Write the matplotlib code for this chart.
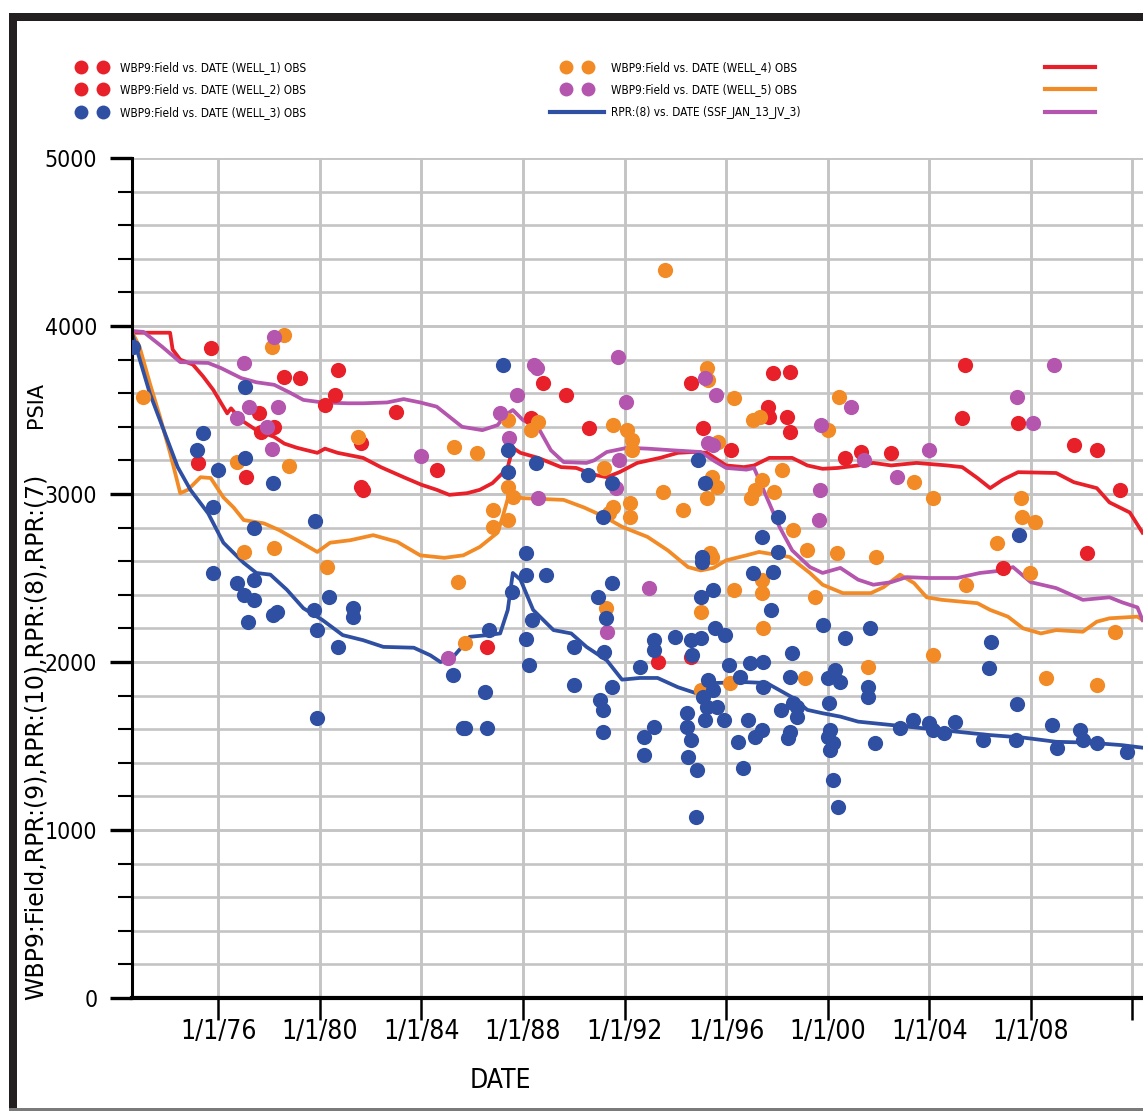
import numpy as np
import matplotlib
matplotlib.use('Agg')
import matplotlib.pyplot as plt
from matplotlib import font_manager as fm
from matplotlib.lines import Line2D
from matplotlib.patches import Rectangle
from matplotlib.legend_handler import HandlerLine2D

W, H = 1143, 1111

# simulated pressure curves, columns: decimal year, psia
rpr9 = np.array([
    [1972.6, 3960], [1974.1, 3960], [1974.2, 3860], [1974.5, 3800], [1975.0, 3770],
    [1975.4, 3700], [1975.8, 3620], [1976.35, 3480], [1976.5, 3510], [1976.9, 3440],
    [1977.5, 3380], [1978.2, 3340], [1978.6, 3300], [1979.1, 3275], [1979.9, 3245],
    [1980.2, 3270], [1980.7, 3245], [1981.7, 3215], [1982.4, 3160], [1983.3, 3100],
    [1984.0, 3055], [1984.6, 3025], [1985.1, 2995], [1985.8, 3005], [1986.3, 3025],
    [1986.8, 3065], [1987.2, 3125], [1987.4, 3160], [1987.6, 3275], [1987.9, 3245],
    [1988.6, 3215], [1989.5, 3160], [1990.1, 3155], [1990.8, 3115], [1991.3, 3100],
    [1991.8, 3130], [1992.5, 3185], [1993.4, 3215], [1994.1, 3245], [1994.7, 3250],
    [1995.25, 3245], [1996.0, 3170], [1996.7, 3160], [1997.1, 3170], [1997.7, 3215],
    [1998.6, 3215], [1999.2, 3170], [1999.8, 3150], [2000.4, 3155], [2001.2, 3170],
    [2001.8, 3185], [2002.5, 3170], [2003.5, 3185], [2004.7, 3170], [2005.3, 3160],
    [2005.9, 3095], [2006.4, 3035], [2006.9, 3085], [2007.5, 3130], [2009.0, 3125],
    [2009.7, 3070], [2010.6, 3035], [2011.1, 2950], [2011.9, 2890], [2012.4, 2770]])

rpr10 = np.array([
    [1972.6, 3965], [1972.9, 3875], [1973.3, 3660], [1973.7, 3460], [1974.1, 3245],
    [1974.5, 3005], [1974.8, 3025], [1975.3, 3100], [1975.7, 3095], [1976.2, 2980],
    [1976.6, 2920], [1977.0, 2845], [1977.8, 2825], [1978.4, 2785], [1979.1, 2725],
    [1979.9, 2655], [1980.4, 2710], [1981.2, 2725], [1982.1, 2755], [1983.05, 2715],
    [1983.95, 2635], [1984.9, 2620], [1985.65, 2635], [1986.3, 2685], [1987.0, 2770],
    [1987.2, 2865], [1987.5, 3025], [1987.8, 2980], [1988.0, 2975], [1989.6, 2965],
    [1990.4, 2920], [1991.2, 2865], [1991.9, 2805], [1992.9, 2745], [1993.7, 2665],
    [1994.5, 2565], [1995.0, 2545], [1995.5, 2560], [1996.0, 2605], [1996.8, 2635],
    [1997.3, 2655], [1998.5, 2625], [1999.3, 2530], [1999.8, 2460], [2000.6, 2410],
    [2001.7, 2410], [2002.2, 2445], [2002.85, 2520], [2003.4, 2470], [2003.9, 2385],
    [2004.5, 2370], [2005.9, 2350], [2006.4, 2310], [2007.1, 2270], [2007.7, 2200],
    [2008.4, 2170], [2009.0, 2190], [2010.05, 2180], [2010.6, 2240], [2011.1, 2260],
    [2012.2, 2270], [2012.4, 2250]])

rpr7 = np.array([
    [1972.6, 3970], [1973.05, 3965], [1973.8, 3875], [1974.5, 3785], [1975.6, 3780],
    [1976.1, 3750], [1976.9, 3690], [1977.5, 3665], [1978.2, 3650], [1978.8, 3605],
    [1979.35, 3560], [1980.1, 3545], [1981.1, 3540], [1981.7, 3540], [1982.65, 3545],
    [1983.3, 3565], [1983.95, 3545], [1984.6, 3520], [1985.1, 3460], [1985.6, 3400],
    [1986.4, 3380], [1987.0, 3410], [1987.3, 3470], [1987.6, 3500], [1988.0, 3440],
    [1988.6, 3395], [1989.1, 3260], [1989.6, 3190], [1990.5, 3185], [1990.8, 3200],
    [1991.3, 3250], [1992.1, 3275], [1992.9, 3270], [1993.9, 3260], [1995.0, 3250],
    [1995.5, 3200], [1996.0, 3155], [1996.8, 3145], [1997.1, 3155], [1997.6, 2980],
    [1998.1, 2805], [1998.6, 2665], [1999.3, 2565], [1999.8, 2530], [2000.5, 2560],
    [2001.2, 2490], [2001.8, 2460], [2002.5, 2475], [2003.1, 2505], [2004.0, 2500],
    [2005.1, 2500], [2006.0, 2530], [2006.9, 2545], [2007.3, 2565], [2008.0, 2475],
    [2009.0, 2440], [2010.05, 2370], [2011.1, 2385], [2011.6, 2355], [2012.2, 2325],
    [2012.4, 2250]])

rpr8 = np.array([
    [1972.6, 3960], [1972.8, 3855], [1973.3, 3600], [1973.8, 3400], [1974.4, 3160],
    [1974.9, 3025], [1975.6, 2885], [1976.2, 2710], [1977.0, 2590], [1977.5, 2530],
    [1978.05, 2520], [1978.7, 2430], [1979.35, 2320], [1980.1, 2250], [1980.9, 2160],
    [1981.7, 2130], [1982.5, 2090], [1983.7, 2085], [1984.35, 2040], [1984.75, 2000],
    [1985.25, 2030], [1985.65, 2100], [1985.9, 2150], [1986.6, 2160], [1987.1, 2170],
    [1987.4, 2310], [1987.6, 2530], [1987.9, 2490], [1988.4, 2310], [1989.2, 2190],
    [1989.9, 2170], [1990.5, 2090], [1991.3, 2010], [1991.9, 1895], [1992.6, 1905],
    [1993.3, 1905], [1994.1, 1850], [1995.0, 1805], [1995.5, 1875], [1996.8, 1880],
    [1997.6, 1875], [1998.6, 1790], [1999.2, 1715], [1999.8, 1695], [2000.5, 1675],
    [2001.2, 1645], [2002.5, 1625], [2003.8, 1605], [2005.1, 1585], [2006.4, 1565],
    [2007.7, 1550], [2009.0, 1525], [2010.3, 1520], [2011.6, 1505], [2012.4, 1490]])

# observed WBP9 per well
well1 = np.array([
    [1975.7, 3870], [1975.2, 3185], [1977.1, 3100], [1977.6, 3480], [1977.7, 3370],
    [1978.2, 3400], [1978.6, 3695], [1979.2, 3690], [1980.2, 3530], [1980.6, 3590],
    [1980.7, 3740], [1981.6, 3305], [1981.6, 3040], [1981.7, 3025], [1983.0, 3490],
    [1984.6, 3145], [1988.8, 3660], [1989.7, 3590], [1990.6, 3395], [1988.3, 3450]])

well2 = np.array([
    [1994.6, 3660], [1995.1, 3395], [1996.2, 3260], [1997.85, 3720], [1998.5, 3725],
    [1997.65, 3520], [1997.7, 3460], [1998.4, 3460], [1998.5, 3370], [1986.6, 2090],
    [1993.3, 2000], [1994.6, 2030], [2000.7, 3215], [2001.3, 3250], [2002.5, 3245],
    [2005.4, 3770], [2005.3, 3450], [2007.5, 3420], [2009.7, 3290], [2010.6, 3260],
    [2011.5, 3025], [2010.2, 2650], [2006.9, 2560]])

well3 = np.array([
    [1972.65, 3875], [1977.05, 3635], [1975.4, 3365], [1975.15, 3260], [1976.0, 3145],
    [1977.05, 3215], [1978.15, 3065], [1975.8, 2920], [1977.4, 2795], [1979.8, 2840],
    [1975.8, 2530], [1976.75, 2470], [1977.0, 2400], [1977.4, 2490], [1977.4, 2370],
    [1977.15, 2240], [1978.15, 2280], [1978.3, 2295], [1979.75, 2310], [1979.9, 2190],
    [1980.35, 2385], [1980.7, 2090], [1981.3, 2320], [1981.3, 2270], [1979.9, 1665],
    [1985.25, 1925], [1985.65, 1605], [1987.2, 3770], [1987.4, 3260], [1987.4, 3130],
    [1988.5, 3185], [1990.55, 3115], [1991.5, 3065], [1991.15, 2865], [1994.9, 3200],
    [1995.15, 3065], [1998.05, 2865], [1997.4, 2745], [1998.05, 2655], [1988.1, 2650],
    [1995.05, 2625], [1988.1, 2520], [1988.9, 2520], [1987.55, 2415], [1988.35, 2250],
    [1988.1, 2135], [1988.25, 1980], [1986.65, 2190], [1986.5, 1820], [1985.7, 1605],
    [1986.6, 1605], [1990.0, 2090], [1990.0, 1865], [1990.95, 2385], [1991.5, 2470],
    [1991.25, 2260], [1991.2, 2060], [1991.5, 1850], [1991.05, 1775], [1991.15, 1715],
    [1991.15, 1585], [1993.15, 2130], [1993.15, 2070], [1992.6, 1970], [1992.75, 1555],
    [1992.75, 1445], [1993.15, 1615], [1994.0, 2150], [1994.6, 2130], [1995.0, 2145],
    [1994.65, 2040], [1995.0, 2385], [1995.05, 2595], [1995.5, 2430], [1995.55, 2200],
    [1995.95, 2160], [1996.1, 1980], [1994.45, 1695], [1994.45, 1615], [1994.6, 1535],
    [1994.5, 1435], [1994.85, 1355], [1994.8, 1075], [1995.1, 1790], [1995.25, 1730],
    [1995.15, 1655], [1995.5, 1835], [1995.65, 1730], [1995.9, 1655], [1995.3, 1895],
    [1996.85, 1655], [1996.45, 1525], [1996.65, 1370], [1997.15, 1555], [1997.4, 1595],
    [1996.95, 1995], [1996.55, 1910], [1997.45, 2000], [1997.45, 1850], [1997.05, 2530],
    [1997.85, 2535], [1997.75, 2310], [1998.6, 2055], [1998.5, 1910], [1998.45, 1550],
    [1998.15, 1715], [1998.65, 1755], [1999.8, 2220], [2000.7, 2145], [2001.65, 2200],
    [1998.8, 1730], [1998.8, 1675], [2000.0, 1905], [2000.3, 1950], [2000.5, 1880],
    [2000.05, 1755], [2000.0, 1555], [2000.1, 1595], [2000.2, 1520], [2000.1, 1475],
    [2000.2, 1300], [2000.4, 1135], [2001.6, 1850], [2001.6, 1790], [2001.85, 1520],
    [2002.85, 1605], [2003.35, 1655], [2004.0, 1635], [2004.15, 1595], [2004.6, 1575],
    [2005.0, 1645], [2006.1, 1535], [2006.35, 1965], [2006.45, 2120], [2007.4, 1535],
    [2007.45, 1750], [2008.85, 1625], [2009.05, 1490], [2009.95, 1595], [2010.05, 1535],
    [2010.6, 1520], [2011.8, 1465], [1998.5, 1585], [2007.55, 2755]])

well4 = np.array([
    [1973.05, 3575], [1978.1, 3875], [1978.6, 3945], [1981.5, 3340], [1976.75, 3190],
    [1978.8, 3165], [1985.3, 3280], [1977.0, 2655], [1978.2, 2680], [1980.3, 2565],
    [1985.45, 2475], [1985.7, 2115], [1986.2, 3245], [1987.4, 3440], [1988.6, 3430],
    [1988.3, 3380], [1986.8, 2905], [1986.8, 2805], [1987.4, 3040], [1987.6, 2980],
    [1987.4, 2845], [1991.55, 3410], [1992.1, 3380], [1992.3, 3320], [1992.3, 3260],
    [1991.2, 3155], [1991.55, 2920], [1991.4, 2885], [1992.2, 2945], [1992.2, 2865],
    [1993.5, 3010], [1993.6, 4335], [1994.3, 2905], [1995.25, 3750], [1995.3, 3680],
    [1995.7, 3310], [1996.3, 3570], [1995.45, 3100], [1995.65, 3040], [1995.25, 2975],
    [1997.05, 3440], [1997.35, 3460], [1998.2, 3145], [1997.4, 3085], [1997.15, 3025],
    [1997.0, 2975], [1997.9, 3010], [1998.65, 2785], [1995.35, 2650], [1991.25, 2320],
    [1995.0, 2295], [1996.3, 2430], [1995.45, 2625], [1997.4, 2490], [1997.4, 2410],
    [1997.45, 2200], [1995.0, 1835], [1996.15, 1875], [2000.45, 3575], [2000.0, 3380],
    [2003.4, 3070], [2004.15, 2975], [1999.2, 2665], [2000.35, 2650], [2001.9, 2625],
    [2006.65, 2710], [2007.6, 2975], [2007.65, 2865], [2008.15, 2835], [1999.5, 2385],
    [2001.6, 1970], [2004.15, 2040], [2005.45, 2460], [2007.95, 2530], [2008.6, 1905],
    [2010.6, 1865], [2011.3, 2180], [1999.1, 1905]])

well5 = np.array([
    [1978.2, 3935], [1977.0, 3780], [1977.2, 3520], [1978.35, 3520], [1976.75, 3450],
    [1977.9, 3400], [1978.1, 3270], [1984.0, 3225], [1985.05, 2025], [1987.1, 3480],
    [1987.75, 3590], [1988.45, 3770], [1988.55, 3750], [1987.45, 3335], [1988.6, 2975],
    [1991.75, 3815], [1992.05, 3545], [1991.8, 3200], [1991.65, 3035], [1995.15, 3690],
    [1995.6, 3590], [1995.3, 3305], [1995.5, 3290], [1992.95, 2440], [1991.3, 2180],
    [1999.75, 3410], [2000.9, 3520], [1999.7, 3025], [1999.65, 2845], [2001.45, 3200],
    [2002.75, 3100], [2004.0, 3260], [2007.45, 3575], [2008.1, 3420], [2008.9, 3770]])

tick_years = [1976, 1980, 1984, 1988, 1992, 1996, 2000, 2004, 2008, 2012]
tick_labels = ['1/1/76', '1/1/80', '1/1/84', '1/1/88', '1/1/92', '1/1/96',
               '1/1/00', '1/1/04', '1/1/08', '']

RED, ORANGE, PURPLE, BLUE = '#e8202a', '#f28a26', '#b456ae', '#2f4fa2'


# look for any narrow / condensed face that is installed
def find_narrow():
    best = None
    for f in fm.fontManager.ttflist:
        key = (f.name + ' ' + f.fname).lower()
        cond = ('narrow' in key or 'condensed' in key
                or f.stretch in ('condensed', 'semi-condensed', 'extra-condensed'))
        if not cond or f.style != 'normal':
            continue
        w = f.weight if isinstance(f.weight, int) else 400
        if 'semi' in key or 'extra' in key or 'ultra' in key:
            w += 50
        score = abs(w - 400)
        if best is None or score < best[0]:
            best = (score, f.fname)
    return best[1] if best else None


narrow_path = find_narrow()


def narrow(size):
    if narrow_path:
        return fm.FontProperties(fname=narrow_path, size=size)
    return fm.FontProperties(family='DejaVu Sans', size=size * 0.72)


fig = plt.figure(figsize=(W / 100, H / 100), dpi=100)

# page frame
fig.add_artist(Rectangle((9 / W, 0), 8 / W, 1 - 13 / H, transform=fig.transFigure,
                         color='#231f20', lw=0))
fig.add_artist(Rectangle((9 / W, 1 - 21 / H), 1, 8 / H, transform=fig.transFigure,
                         color='#231f20', lw=0))
fig.add_artist(Rectangle((9 / W, 0), 1, 3 / H, transform=fig.transFigure,
                         color='#7a7a7a', lw=0))

ax = fig.add_axes([132 / W, 1 - 998 / H, (W - 132) / W, 840 / H])
ax.set_xlim(1972.6, 2012.42)
ax.set_ylim(0, 5000)

ax.set_yticks(np.arange(0, 5001, 1000))
ax.set_yticks(np.arange(0, 5001, 200), minor=True)
ax.set_xticks(tick_years)
ax.set_xticklabels(tick_labels)
ax.grid(which='major', axis='both', color='#c4c4c4', lw=2.1, zorder=0)
ax.grid(which='minor', axis='y', color='#c4c4c4', lw=1.9, zorder=0)
ax.set_axisbelow(True)

for s in ['top', 'right']:
    ax.spines[s].set_visible(False)
ax.spines['left'].set_linewidth(2.2)
ax.spines['bottom'].set_linewidth(3.0)
ax.tick_params(axis='y', which='major', length=16, width=2.4, pad=9)
ax.tick_params(axis='y', which='minor', length=10, width=1.5)
ax.tick_params(axis='x', which='major', length=16, width=1.8, pad=-1)
for lbl in ax.get_yticklabels():
    lbl.set_fontproperties(narrow(16.5))
for lbl in ax.get_xticklabels():
    lbl.set_fontproperties(narrow(19))

l9, = ax.plot(rpr9[:, 0], rpr9[:, 1], color=RED, lw=2.7, zorder=2)
l10, = ax.plot(rpr10[:, 0], rpr10[:, 1], color=ORANGE, lw=2.7, zorder=2)
l7, = ax.plot(rpr7[:, 0], rpr7[:, 1], color=PURPLE, lw=2.7, zorder=2)
l8, = ax.plot(rpr8[:, 0], rpr8[:, 1], color=BLUE, lw=2.7, zorder=2)

for pts, c in [(well1, RED), (well2, RED), (well4, ORANGE), (well5, PURPLE), (well3, BLUE)]:
    ax.scatter(pts[:, 0], pts[:, 1], s=120, color=c, marker='o', lw=0, zorder=3)

fig.text(500 / W, 1 - 1081 / H, 'DATE', ha='center', va='center',
         fontproperties=narrow(19))
fig.text(36 / W, 1 - 737 / H, 'WBP9:Field,RPR:(9),RPR:(10),RPR:(8),RPR:(7)',
         rotation=90, ha='center', va='center', fontsize=17)
fig.text(36 / W, 1 - 405 / H, 'PSIA', rotation=90, ha='center', va='center', fontsize=15)


# legends
def mk(c):
    return Line2D([], [], ls='none', marker='o', color=c, markersize=10, mew=0)


pair = HandlerLine2D(numpoints=2, marker_pad=1.35)
common = dict(frameon=False, borderpad=0, borderaxespad=0, handlelength=4.6,
              labelspacing=0.8, prop=narrow(8.5), loc='upper left',
              bbox_transform=fig.transFigure)

fig.legend([mk(RED), mk(RED), mk(BLUE)],
           ['WBP9:Field vs. DATE (WELL_1) OBS', 'WBP9:Field vs. DATE (WELL_2) OBS',
            'WBP9:Field vs. DATE (WELL_3) OBS'],
           bbox_to_anchor=(65 / W, 1 - 61 / H), handletextpad=0.05,
           handler_map={Line2D: pair}, **common)
rpr8_handle = Line2D([], [], color=BLUE, lw=3)
fig.legend([mk(ORANGE), mk(PURPLE), rpr8_handle],
           ['WBP9:Field vs. DATE (WELL_4) OBS', 'WBP9:Field vs. DATE (WELL_5) OBS',
            'RPR:(8) vs. DATE (SSF_JAN_13_JV_3)'],
           bbox_to_anchor=(550 / W, 1 - 61 / H), handletextpad=0.6,
           handler_map={Line2D: pair, rpr8_handle: HandlerLine2D()}, **common)
fig.legend([Line2D([], [], color=RED, lw=3), Line2D([], [], color=ORANGE, lw=3),
            Line2D([], [], color=PURPLE, lw=3)], ['', '', ''],
           bbox_to_anchor=(1045 / W, 1 - 61 / H), handletextpad=0,
           **dict(common, handlelength=4.2))

fig.savefig('out.png', dpi=100)
